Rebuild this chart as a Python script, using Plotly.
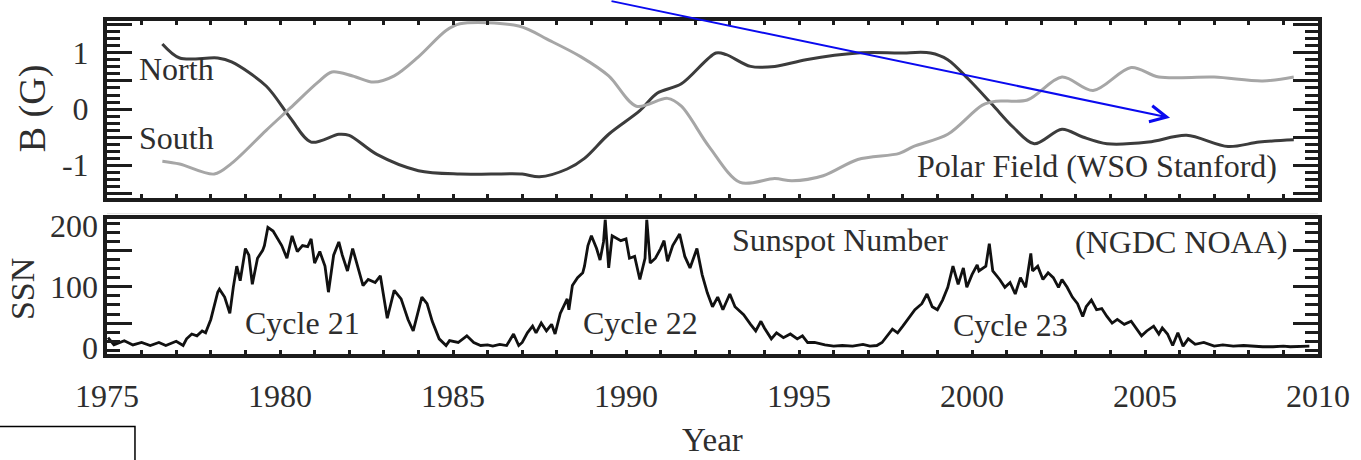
import plotly.graph_objects as go

# ---- Polar field (WSO Stanford), gauss ----
north_year = [1976.6, 1977.1, 1978.2, 1978.6, 1979.6, 1980.3, 1980.9, 1981.7, 1982.0,
              1982.8, 1984.0, 1985.2, 1986.1, 1987.0, 1987.5, 1988.3, 1988.8, 1989.5,
              1990.4, 1990.9, 1991.6, 1992.6, 1992.9, 1993.6, 1994.3, 1995.2, 1996.7,
              1997.9, 1998.8, 1999.3, 1999.9, 2000.6, 2001.2, 2001.8, 2002.6, 2003.2,
              2003.9, 2005.1, 2006.2, 2007.4, 2008.3, 2009.3]
north_b = [1.16, 0.91, 0.91, 0.84, 0.41, -0.16, -0.59, -0.45, -0.47,
           -0.81, -1.10, -1.16, -1.16, -1.16, -1.21, -1.07, -0.88, -0.45,
           -0.03, 0.28, 0.45, 1.00, 0.97, 0.76, 0.76, 0.88, 1.00,
           1.00, 1.00, 0.88, 0.53, 0.07, -0.33, -0.62, -0.36, -0.50,
           -0.62, -0.59, -0.47, -0.67, -0.59, -0.55]

south_year = [1976.6, 1977.1, 1978.1, 1978.6, 1979.6, 1980.3, 1981.1, 1981.5, 1982.1,
              1982.7, 1983.3, 1984.0, 1984.8, 1985.2, 1986.9, 1987.8, 1988.7, 1989.5,
              1990.3, 1991.2, 1991.6, 1992.4, 1993.3, 1994.3, 1994.8, 1995.7, 1996.7,
              1997.9, 1998.3, 1999.3, 2000.3, 2000.7, 2001.6, 2002.6, 2003.5, 2004.6,
              2005.4, 2007.0, 2008.4, 2009.3]
south_b = [-0.93, -0.98, -1.16, -0.97, -0.38, 0.02, 0.48, 0.66, 0.59,
           0.48, 0.59, 0.93, 1.40, 1.52, 1.48, 1.22, 0.93, 0.59,
           0.05, 0.19, 0.05, -0.67, -1.31, -1.24, -1.28, -1.19, -0.90,
           -0.79, -0.67, -0.45, 0.07, 0.14, 0.16, 0.57, 0.33, 0.74,
           0.57, 0.57, 0.50, 0.57]

# ---- Sunspot number (NGDC NOAA) ----
ssn_year = [1975.03, 1975.2, 1975.5, 1975.75, 1976.0, 1976.25, 1976.5, 1976.7, 1977.0,
            1977.2, 1977.3, 1977.45, 1977.6, 1977.75, 1977.85, 1978.0, 1978.2, 1978.25,
            1978.4, 1978.55, 1978.65, 1978.75, 1978.85, 1979.0, 1979.1, 1979.2, 1979.35,
            1979.5, 1979.55, 1979.65, 1979.8, 1980.05, 1980.2, 1980.35, 1980.5, 1980.65,
            1980.8, 1980.9, 1981.0, 1981.15, 1981.3, 1981.4, 1981.55, 1981.7, 1981.8,
            1981.95, 1982.1, 1982.25, 1982.4, 1982.55, 1982.75, 1982.9, 1983.1, 1983.3,
            1983.5, 1983.7, 1983.85, 1984.1, 1984.25, 1984.4, 1984.6, 1984.8, 1984.9,
            1985.15, 1985.4, 1985.6, 1985.8, 1986.0, 1986.15, 1986.35, 1986.55, 1986.75,
            1986.9, 1987.0, 1987.15, 1987.3, 1987.4, 1987.55, 1987.7, 1987.85, 1987.95,
            1988.1, 1988.2, 1988.3, 1988.35, 1988.45, 1988.6, 1988.75, 1988.8, 1988.9,
            1989.0, 1989.15, 1989.25, 1989.35, 1989.4, 1989.5, 1989.6, 1989.85, 1990.0,
            1990.1, 1990.25, 1990.4, 1990.55, 1990.6, 1990.7, 1990.85, 1991.0, 1991.1,
            1991.2, 1991.35, 1991.55, 1991.7, 1991.85, 1992.05, 1992.2, 1992.35, 1992.5,
            1992.65, 1992.8, 1993.0, 1993.15, 1993.4, 1993.6, 1993.75, 1993.9, 1994.0,
            1994.2, 1994.35, 1994.55, 1994.75, 1994.95, 1995.1, 1995.25, 1995.45, 1995.75,
            1996.0, 1996.25, 1996.55, 1996.85, 1997.05, 1997.25, 1997.4, 1997.7, 1997.85,
            1998.0, 1998.2, 1998.35, 1998.55, 1998.7, 1998.85, 1999.0, 1999.15, 1999.3,
            1999.45, 1999.6, 1999.75, 1999.85, 2000.0, 2000.15, 2000.2, 2000.4, 2000.5,
            2000.6, 2000.8, 2000.95, 2001.1, 2001.25, 2001.4, 2001.55, 2001.7, 2001.75,
            2001.9, 2002.05, 2002.2, 2002.35, 2002.5, 2002.6, 2002.75, 2002.9, 2003.05,
            2003.2, 2003.3, 2003.45, 2003.6, 2003.75, 2003.9, 2004.05, 2004.2, 2004.4,
            2004.6, 2004.75, 2004.9, 2005.05, 2005.25, 2005.4, 2005.5, 2005.65, 2005.8,
            2005.95, 2006.1, 2006.25, 2006.45, 2006.7, 2007.0, 2007.25, 2007.55, 2007.85,
            2008.1, 2008.4, 2008.7, 2009.0, 2009.2, 2009.5, 2009.75]
ssn_value = [16, 4, 11, 4, 8, 3, 8, 3, 10,
             3, 14, 22, 19, 27, 24, 46, 91, 96,
             83, 56, 99, 134, 110, 163, 152, 104, 147,
             160, 168, 198, 192, 168, 147, 184, 158, 168,
             166, 179, 139, 158, 134, 91, 152, 174, 152,
             126, 163, 134, 102, 112, 107, 118, 48, 94,
             80, 46, 27, 83, 72, 43, 14, 3, 11,
             8, 19, 8, 3, 4, 2, 5, 3, 22,
             3, 8, 24, 35, 24, 40, 27, 38, 22,
             56, 67, 80, 62, 102, 115, 123, 134, 168,
             184, 163, 144, 174, 211, 131, 184, 176, 179,
             147, 150, 112, 147, 211, 139, 147, 163, 176,
             142, 168, 187, 150, 131, 163, 120, 90, 67,
             83, 62, 88, 67, 54, 38, 27, 43, 32,
             14, 24, 16, 22, 14, 19, 8, 8, 4,
             2, 3, 2, 5, 2, 3, 8, 30, 24,
             35, 51, 62, 72, 88, 67, 62, 78, 99,
             134, 104, 131, 99, 120, 136, 126, 134, 171,
             126, 112, 99, 107, 88, 115, 99, 155, 126,
             134, 112, 123, 115, 99, 112, 99, 83, 72,
             51, 67, 78, 62, 64, 51, 40, 46, 38,
             43, 32, 19, 27, 35, 22, 32, 22, 3,
             24, 2, 14, 5, 8, 2, 4, 2, 3,
             2, 1, 1, 2, 1, 2, 2]

x_range = [1975, 2010]
year_ticks = [1975, 1980, 1985, 1990, 1995, 2000, 2005, 2010]
b_ticks = [-1.5, -1.0, -0.5, 0.0, 0.5, 1.0, 1.5]
b_ticktext = ["", "-1", "", "0", "", "1", ""]
ssn_major_ticks = [40, 100, 160]
ssn_label_ticks = [0, 100, 200]

SERIF = "Liberation Serif"
INK = "#2e2e2e"
FRAME = "#1c1c1c"

fig = go.Figure()

fig.add_trace(go.Scatter(x=north_year, y=north_b, mode="lines", xaxis="x", yaxis="y",
                         line=dict(color="#3c3c3c", width=3, shape="spline", smoothing=0.9),
                         hoverinfo="skip", showlegend=False))
fig.add_trace(go.Scatter(x=south_year, y=south_b, mode="lines", xaxis="x", yaxis="y",
                         line=dict(color="#a6a6a6", width=3, shape="spline", smoothing=0.9),
                         hoverinfo="skip", showlegend=False))
fig.add_trace(go.Scatter(x=ssn_year, y=ssn_value, mode="lines", xaxis="x2", yaxis="y2",
                         line=dict(color="#111111", width=2.8),
                         hoverinfo="skip", showlegend=False))
# invisible trace that carries the SSN label axis
fig.add_trace(go.Scatter(x=[None], y=[None], xaxis="x2", yaxis="y3",
                         hoverinfo="skip", showlegend=False))

frame = dict(showline=True, linewidth=4, linecolor=FRAME, showgrid=False, zeroline=False)

fig.update_layout(
    width=1361, height=460,
    margin=dict(l=107, r=43, t=10, b=106),
    paper_bgcolor="white", plot_bgcolor="white",
    font=dict(family=SERIF, color=INK, size=32),
    xaxis=dict(**frame, domain=[0, 1], range=x_range, anchor="y",
               mirror="ticks", ticks="inside", tickmode="linear", tick0=1975, dtick=1,
               ticklen=4, tickwidth=3, tickcolor=FRAME, showticklabels=False),
    yaxis=dict(**frame, domain=[0.468, 1], range=[-1.59, 1.57], anchor="x",
               mirror="ticks", ticks="inside", tickmode="array",
               tickvals=b_ticks, ticktext=b_ticktext,
               ticklen=25, tickwidth=3, tickcolor=FRAME, ticklabelstandoff=8,
               minor=dict(ticks="inside", dtick=0.125, tick0=0, ticklen=13,
                          tickwidth=3.2, tickcolor=FRAME)),
    xaxis2=dict(**frame, domain=[0, 1], range=x_range, anchor="y2", mirror=True,
                ticks="inside", tickmode="array", tickvals=year_ticks,
                ticklen=4, tickwidth=3, tickcolor=FRAME, ticklabelstandoff=11,
                minor=dict(ticks="inside", dtick=1, tick0=1975, ticklen=4,
                           tickwidth=3, tickcolor=FRAME)),
    yaxis2=dict(**frame, domain=[0, 0.404], range=[-11, 211], anchor="x2",
                mirror="ticks", ticks="inside", tickmode="array",
                tickvals=ssn_major_ticks, showticklabels=False,
                ticklen=25, tickwidth=3, tickcolor=FRAME,
                minor=dict(ticks="inside", dtick=15, tick0=10, ticklen=13,
                           tickwidth=3.2, tickcolor=FRAME)),
    yaxis3=dict(overlaying="y2", range=[-11, 211], anchor="x2", side="left",
                showline=False, showgrid=False, zeroline=False, ticks="",
                tickmode="array", tickvals=ssn_label_ticks, ticklabelstandoff=8),
)

ann_font = dict(family=SERIF, color=INK, size=32)
labels = [
    dict(text="North", x=1975.87, y=0.72, xref="x", yref="y", xanchor="left"),
    dict(text="South", x=1975.87, y=-0.52, xref="x", yref="y", xanchor="left"),
    dict(text="Polar Field (WSO Stanford)", x=2003.6, y=-1.02, xref="x", yref="y"),
    dict(text="Sunspot Number", x=1996.18, y=177, xref="x2", yref="y2"),
    dict(text="(NGDC NOAA)", x=2006.04, y=174, xref="x2", yref="y2"),
    dict(text="Cycle 21", x=1980.66, y=40, xref="x2", yref="y2"),
    dict(text="Cycle 22", x=1990.43, y=40, xref="x2", yref="y2"),
    dict(text="Cycle 23", x=2001.1, y=37, xref="x2", yref="y2"),
]
for a in labels:
    fig.add_annotation(showarrow=False, font=ann_font, yanchor="middle",
                       xanchor=a.pop("xanchor", "center"), **a)

# axis titles
title_font = dict(family=SERIF, color=INK, size=38)
fig.add_annotation(text="B (G)", xref="paper", yref="paper", x=-0.0619, y=0.738,
                   xanchor="center", yanchor="middle",
                   textangle=-90, showarrow=False, font=title_font)
fig.add_annotation(text="SSN", xref="paper", yref="paper", x=-0.0702, y=0.195,
                   xanchor="center", yanchor="middle",
                   textangle=-90, showarrow=False, font=dict(family=SERIF, color=INK, size=34))
fig.add_annotation(text="Year", xref="paper", yref="paper", x=0.5004, y=-0.259,
                   xanchor="center", yanchor="middle",
                   showarrow=False, font=dict(family=SERIF, color=INK, size=33))

# blue pointer arrow
fig.add_annotation(text="", xref="paper", yref="paper", x=0.8778, y=0.7093,
                   ax=-560, ay=-117, showarrow=True, arrowhead=5, arrowsize=1.6,
                   arrowwidth=2, arrowcolor="#0a0aef", standoff=0)

# faint separator and empty box at the lower left
fig.add_shape(type="line", xref="paper", yref="paper", x0=0, x1=1, y0=0.4215, y1=0.4215,
              line=dict(color="#e2e2e2", width=1))
fig.add_shape(type="rect", xref="paper", yref="paper", x0=-0.09, x1=0.0231,
              y0=-0.218, y1=-0.33, line=dict(color="black", width=1.5),
              fillcolor="rgba(0,0,0,0)")

fig.write_html("out.html")
